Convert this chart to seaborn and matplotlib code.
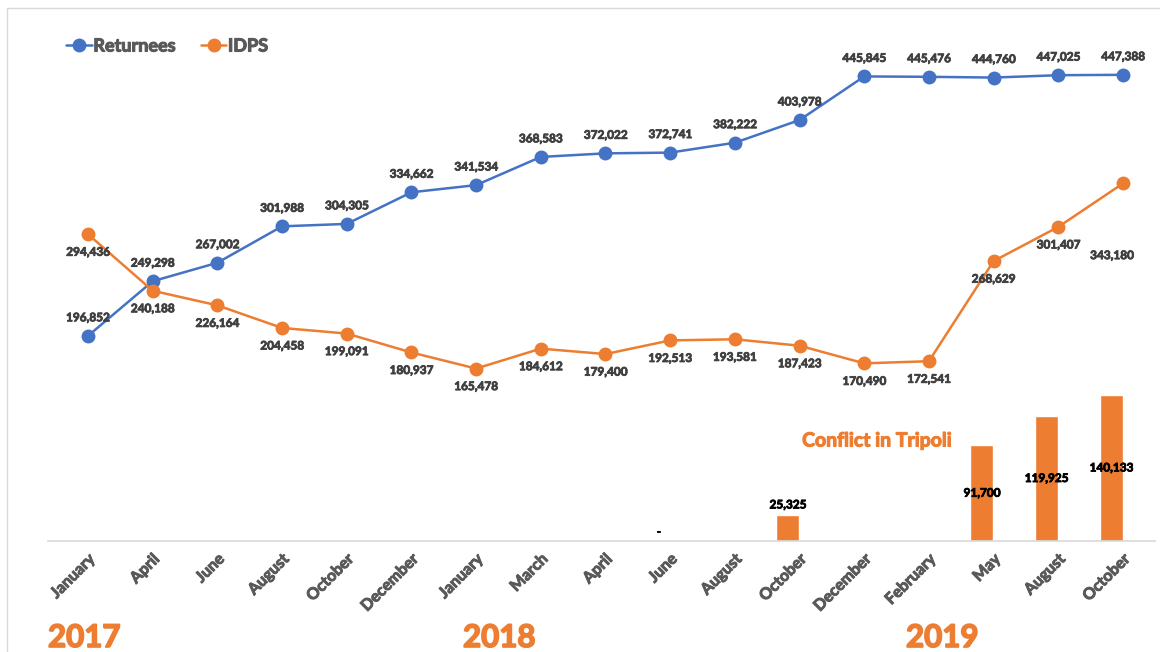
import numpy as np
import pandas as pd
import matplotlib.pyplot as plt
import seaborn as sns
from matplotlib.lines import Line2D
from matplotlib.patches import Rectangle
import matplotlib.patheffects as pe

# ------------- Data -------------
months = ["January", "April", "June", "August", "October", "December",
          "January", "March", "April", "June", "August", "October",
          "December", "February", "May", "August", "October"]
returnees = [196852, 249298, 267002, 301988, 304305, 334662, 341534, 368583, 372022,
             372741, 382222, 403978, 445845, 445476, 444760, 447025, 447388]
idps = [294436, 240188, 226164, 204458, 199091, 180937, 165478, 184612, 179400,
        192513, 193581, 187423, 170490, 172541, 268629, 301407, 343180]
# Conflict in Tripoli (only some months reported)
conflict = [np.nan, np.nan, np.nan, np.nan, np.nan, np.nan, np.nan, np.nan, np.nan,
            0, np.nan, 25325, np.nan, np.nan, 91700, 119925, 140133]
years = ["2017", "2018", "2019"]

df = pd.DataFrame({"idx": range(len(months)), "Returnees": returnees,
                   "IDPS": idps, "Conflict": conflict})

BLUE = "#4472C4"
ORANGE = "#ED7D31"
GREY = "#595959"
LABEL = "#404040"


def bold(c, w=0.7):
    # Lato bold renders light here, thicken the strokes a bit
    return [pe.withStroke(linewidth=w, foreground=c)]


sns.set_style("white")
plt.rcParams["font.family"] = ["Lato", "DejaVu Sans"]

W, H = 1160, 652
fig = plt.figure(figsize=(W / 100, H / 100), dpi=100)
ax = fig.add_axes([48 / W, (H - 541) / H, (1155 - 48) / W, 521 / H])

# ------------- Bars -------------
bars = df.dropna(subset=["Conflict"])
ax.bar(bars["idx"] - 0.18, bars["Conflict"], width=0.355, color=ORANGE, zorder=1)
for _, r in bars.iterrows():
    v = r["Conflict"]
    txt = "-" if v == 0 else f"{int(v):,}"
    if v < 50000:
        ax.annotate(txt, (r["idx"] - 0.18, v), xytext=(0, 3), textcoords="offset points",
                    ha="center", va="bottom", fontsize=8.5, fontweight="bold", color="black",
                    path_effects=bold("black", 0.6))
    else:
        ax.text(r["idx"] - 0.18, v / 2, txt, ha="center", va="center",
                fontsize=8.5, fontweight="bold", color="black", zorder=5,
                path_effects=bold("black", 0.6))

# ------------- Lines -------------
sns.lineplot(data=df, x="idx", y="Returnees", ax=ax, color=BLUE, linewidth=1.8,
             marker="o", markersize=10, markeredgewidth=0, zorder=3)
sns.lineplot(data=df, x="idx", y="IDPS", ax=ax, color=ORANGE, linewidth=1.8,
             marker="o", markersize=10, markeredgewidth=0, zorder=3)

for i, v in enumerate(returnees):
    ax.annotate(f"{v:,}", (i, v), xytext=(0, 13), textcoords="offset points",
                ha="center", va="center", fontsize=8.5, fontweight="bold", color=LABEL,
                path_effects=bold(LABEL, 0.6))
for i, v in enumerate(idps):
    off = (-8, -52) if i == len(idps) - 1 else (0, -13)
    ax.annotate(f"{v:,}", (i, v), xytext=off, textcoords="offset points",
                ha="center", va="center", fontsize=8.5, fontweight="bold", color=LABEL,
                path_effects=bold(LABEL, 0.6))

ax.text(11.04, 96000, "Conflict in Tripoli", ha="left", va="center",
        fontsize=14, fontweight="bold", color=ORANGE, path_effects=bold(ORANGE, 0.8))

# ------------- Axes -------------
ax.set_xlim(-0.618, 16.495)
ax.set_ylim(0, 500000)
ax.set_xticks(range(len(months)))
ax.set_xticklabels(months, rotation=45, ha="right", rotation_mode="anchor",
                   fontsize=11.5, fontweight="bold", color=GREY)
for t in ax.get_xticklabels():
    t.set_path_effects(bold(GREY, 0.7))
ax.tick_params(axis="x", length=0, pad=8)
ax.set_yticks([])
ax.set_xlabel("")
ax.set_ylabel("")
for s in ["left", "right", "top"]:
    ax.spines[s].set_visible(False)
ax.spines["bottom"].set_color("#D9D9D9")
ax.spines["bottom"].set_linewidth(1.2)

handles = [Line2D([], [], color=BLUE, marker="o", markersize=10, markeredgewidth=0, lw=1.8),
           Line2D([], [], color=ORANGE, marker="o", markersize=10, markeredgewidth=0, lw=1.8)]
leg = fig.legend(handles, ["Returnees", "IDPS"], loc="center left",
                 bbox_to_anchor=(50 / W, (H - 46) / H), ncol=2, frameon=False,
                 handlelength=1.4, handletextpad=0.1, columnspacing=1.4,
                 prop={"size": 13, "weight": "bold"})
for t in leg.get_texts():
    t.set_color(GREY)
    t.set_path_effects(bold(GREY, 0.8))

# year labels
for yr, xpx in zip(years, [48, 463, 906]):
    fig.text(xpx / W, (H - 647) / H, yr, ha="left", va="baseline",
             fontsize=22.5, fontweight="bold", color=ORANGE, path_effects=bold(ORANGE, 1.2))

# chart border
fig.patches.append(Rectangle((7 / W, -0.05), 1.1, (H - 8) / H + 0.05,
                             transform=fig.transFigure, fill=False,
                             edgecolor="#D9D9D9", linewidth=1))

fig.savefig("out.png", dpi=100)
